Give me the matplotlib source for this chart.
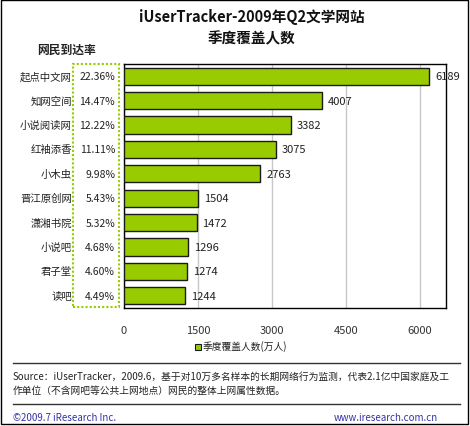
import matplotlib
matplotlib.use("Agg")
import matplotlib.pyplot as plt
from matplotlib.patches import Rectangle

plt.rcParams['font.family'] = ['Noto Sans CJK SC', 'DejaVu Sans']

# data
sites = ["起点中文网", "知网空间", "小说阅读网", "红袖添香", "小木虫",
         "晋江原创网", "潇湘书院", "小说吧", "君子堂", "读吧"]
reach = ["22.36%", "14.47%", "12.22%", "11.11%", "9.98%",
         "5.43%", "5.32%", "4.68%", "4.60%", "4.49%"]
users = [6189, 4007, 3382, 3075, 2763, 1504, 1472, 1296, 1274, 1244]
ticks = [0, 1500, 3000, 4500, 6000]

W, H = 470, 427
fig = plt.figure(figsize=(W / 100, H / 100), dpi=100)

def fx(px):
    return px / W

def fy(py):
    return 1 - py / H

# plot area in pixels
left, right, top, bottom = 124, 446, 65, 309
ax = fig.add_axes([fx(left), fy(bottom), fx(right) - fx(left), fy(top) - fy(bottom)])

y = list(range(len(sites)))
ax.barh(y, users, height=0.7, color='#99CC00', edgecolor='#1a1a1a', linewidth=1.0, zorder=3)
ax.set_ylim(len(sites) - 0.5, -0.5)
ax.set_xlim(0, 6530)
ax.set_xticks(ticks)
ax.set_xticklabels([str(t) for t in ticks], fontsize=8, color='#333333')
ax.tick_params(axis='x', length=0, pad=12)
ax.set_yticks([])
ax.grid(axis='x', color='#c8c8c8', linewidth=1, zorder=0)
for s in ax.spines.values():
    s.set_color('black')
    s.set_linewidth(1)

for i, v in enumerate(users):
    ax.text(v + 120, i, str(v), va='center', ha='left', fontsize=8, color='#222222', zorder=4)

# category and reach labels
for i, (name, r) in enumerate(zip(sites, reach)):
    yy = ax.transData.transform((0, i))[1] / fig.dpi / (H / 100)
    fig.text(fx(72), yy, name, ha='right', va='center', fontsize=7.5, color='#222222')
    fig.text(fx(115), yy, r, ha='right', va='center', fontsize=7.5, color='#222222')

# dotted green box around reach column
fig.patches.append(Rectangle((fx(73), fy(308)), fx(119) - fx(73), fy(65) - fy(308),
                             transform=fig.transFigure, fill=False,
                             edgecolor='#99CC00', linestyle=(0, (1, 1)), linewidth=1.5))

fig.text(fx(67), fy(50), "网民到达率", ha='center', va='center', fontsize=8.5,
         fontweight='bold', color='#222222')

# title
fig.text(fx(252), fy(17), "iUserTracker-2009年Q2文学网站", ha='center', va='center',
         fontsize=10.5, fontweight='bold', color='#111111')
fig.text(fx(252), fy(38), "季度覆盖人数", ha='center', va='center',
         fontsize=10.5, fontweight='bold', color='#111111')

# legend
fig.patches.append(Rectangle((fx(195), fy(351)), fx(6), fy(0) - fy(6),
                             transform=fig.transFigure, facecolor='#99CC00',
                             edgecolor='#1a1a1a', linewidth=0.8))
fig.text(fx(203), fy(347), "季度覆盖人数(万人)", ha='left', va='center', fontsize=7, color='#222222')

# separator lines
fig.add_artist(plt.Line2D([fx(13), fx(460)], [fy(364), fy(364)], color='#333333', linewidth=1))
fig.add_artist(plt.Line2D([fx(13), fx(460)], [fy(405), fy(405)], color='#333333', linewidth=1))

fig.text(fx(13), fy(377), "Source：iUserTracker，2009.6，基于对10万多名样本的长期网络行为监测，代表2.1亿中国家庭及工",
         ha='left', va='center', fontsize=7, color='#222222')
fig.text(fx(13), fy(391), "作单位（不含网吧等公共上网地点）网民的整体上网属性数据。",
         ha='left', va='center', fontsize=7, color='#222222')

fig.text(fx(13), fy(418), "©2009.7 iResearch Inc.", ha='left', va='center', fontsize=7, color='#3333aa')
fig.text(fx(438), fy(418), "www.iresearch.com.cn", ha='right', va='center', fontsize=7, color='#3333aa')

# outer border
fig.patches.append(Rectangle((fx(1), fy(425)), fx(467), fy(0) - fy(424),
                             transform=fig.transFigure, fill=False,
                             edgecolor='black', linewidth=1))

fig.savefig("out.png", dpi=100)
